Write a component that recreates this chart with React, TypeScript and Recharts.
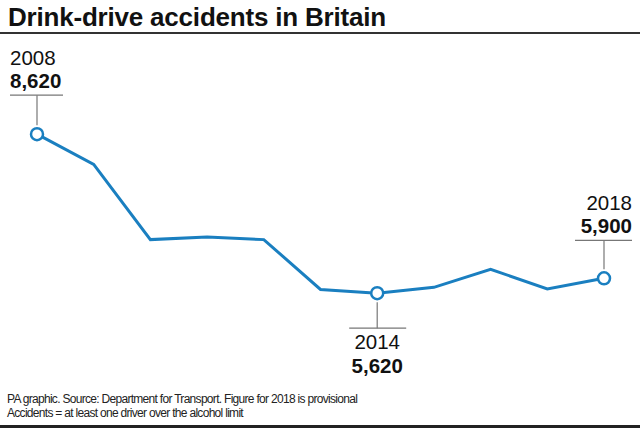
import React from 'react';
import { LineChart, Line, XAxis, YAxis } from 'recharts';

const years = ['2008', '2009', '2010', '2011', '2012', '2013', '2014', '2015', '2016', '2017', '2018'];
const accidents = [8620, 8050, 6630, 6680, 6630, 5690, 5620, 5730, 6070, 5700, 5900];

// which points get a callout, and where it sits
const callouts: Record<number, 'above-left' | 'below' | 'above-right'> = {
  0: 'above-left',
  6: 'below',
  10: 'above-right',
};

const data = years.map((year, i) => ({ year, accidents: accidents[i] }));

const BLUE = '#1a7fc0';
const FONT = '"Liberation Sans", Arial, sans-serif';
const LABEL_SIZE = 20.5;

const fmt = (v: number) => v.toLocaleString('en-GB');

function CalloutDot(props: any) {
  const { cx, cy, index, payload } = props;
  const kind = callouts[index];
  if (!kind) return <g key={index} />;
  const r = 6;
  let parts;
  if (kind === 'below') {
    const lineY = cy + 35;
    parts = (
      <>
        <line x1={cx} y1={cy + r + 3} x2={cx} y2={lineY} stroke="#777" strokeWidth={1.2} />
        <line x1={cx - 28} y1={lineY} x2={cx + 29} y2={lineY} stroke="#777" strokeWidth={1.2} />
        <text x={cx} y={lineY + 21} textAnchor="middle" fontSize={LABEL_SIZE} fill="#111">{payload.year}</text>
        <text x={cx} y={lineY + 45} textAnchor="middle" fontSize={LABEL_SIZE} fontWeight="bold" fill="#111">{fmt(payload.accidents)}</text>
      </>
    );
  } else {
    const lineY = kind === 'above-left' ? cy - 39 : cy - 38;
    const x1 = kind === 'above-left' ? 10 : cx - 29;
    const x2 = kind === 'above-left' ? 63 : 632;
    const tx = kind === 'above-left' ? 10 : 632;
    const anchor = kind === 'above-left' ? 'start' : 'end';
    parts = (
      <>
        <line x1={cx} y1={cy - r - 3} x2={cx} y2={lineY} stroke="#777" strokeWidth={1.2} />
        <line x1={x1} y1={lineY} x2={x2} y2={lineY} stroke="#777" strokeWidth={1.2} />
        <text x={tx} y={lineY - 30} textAnchor={anchor} fontSize={LABEL_SIZE} fill="#111">{payload.year}</text>
        <text x={tx} y={lineY - 7} textAnchor={anchor} fontSize={LABEL_SIZE} fontWeight="bold" fill="#111">{fmt(payload.accidents)}</text>
      </>
    );
  }
  return (
    <g key={index} fontFamily={FONT}>
      {parts}
      <circle cx={cx} cy={cy} r={r} fill="#fff" stroke={BLUE} strokeWidth={2.5} />
    </g>
  );
}

export default function App() {
  return (
    <div style={{ position: 'absolute', left: 0, top: 0, width: 640, height: 428, background: '#fff', fontFamily: FONT, overflow: 'hidden' }}>
      <div style={{ position: 'absolute', left: 8, top: 2, fontSize: 26, fontWeight: 'bold', color: '#111', letterSpacing: -0.2, whiteSpace: 'nowrap' }}>
        Drink-drive accidents in Britain
      </div>
      <div style={{ position: 'absolute', left: 0, top: 32, width: 640, height: 1.5, background: '#333' }} />
      <div style={{ position: 'absolute', left: 0, top: 0 }}>
        <LineChart width={640} height={428} data={data} margin={{ top: 114, right: 36, bottom: 102, left: 37 }}>
          <XAxis dataKey="year" hide />
          <YAxis hide domain={[5000, 9000]} />
          <Line
            type="linear"
            dataKey="accidents"
            stroke={BLUE}
            strokeWidth={3}
            dot={CalloutDot}
            activeDot={false}
            isAnimationActive={false}
          />
        </LineChart>
      </div>
      <div style={{ position: 'absolute', left: 7, top: 393, fontSize: 12, lineHeight: '13.5px', color: '#222', letterSpacing: -0.7, whiteSpace: 'nowrap' }}>
        PA graphic. Source: Department for Transport. Figure for 2018 is provisional
        <br />
        Accidents = at least one driver over the alcohol limit
      </div>
      <div style={{ position: 'absolute', left: 0, top: 425, width: 640, height: 3, background: '#222' }} />
    </div>
  );
}
